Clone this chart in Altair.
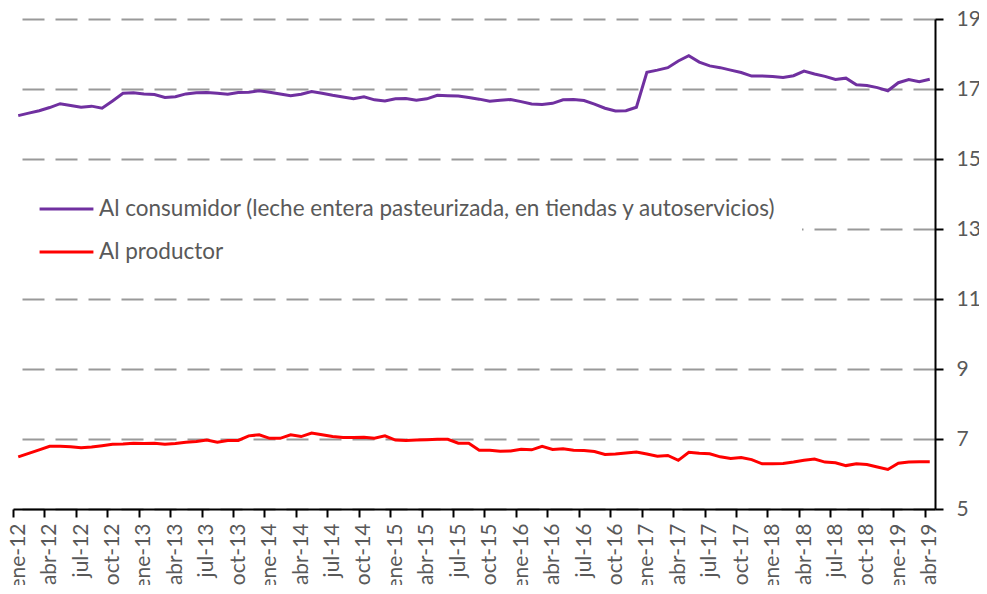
import json
import altair as alt
import pandas as pd

# ---- data (monthly, ene-12 .. abr-19) ----
meses = ["ene", "feb", "mar", "abr", "may", "jun", "jul", "ago", "sep", "oct", "nov", "dic"]
anio_inicio = 2012

consumidor = [
    16.24, 16.31, 16.38, 16.47, 16.58, 16.53, 16.48, 16.51, 16.45, 16.66, 16.88, 16.89,
    16.86, 16.84, 16.76, 16.78, 16.86, 16.89, 16.90, 16.88, 16.85, 16.90, 16.91, 16.95,
    16.91, 16.86, 16.81, 16.85, 16.93, 16.88, 16.82, 16.77, 16.72, 16.78, 16.69, 16.66,
    16.72, 16.73, 16.68, 16.72, 16.82, 16.81, 16.80, 16.76, 16.71, 16.65, 16.68, 16.70,
    16.64, 16.57, 16.56, 16.59, 16.69, 16.70, 16.67, 16.57, 16.45, 16.37, 16.38, 16.48,
    17.48, 17.54, 17.61, 17.80, 17.95, 17.77, 17.66, 17.61, 17.54, 17.47, 17.37, 17.37,
    17.36, 17.33, 17.38, 17.51, 17.43, 17.36, 17.27, 17.31, 17.12, 17.10, 17.04, 16.95,
    17.18, 17.27, 17.21, 17.28,
]

productor = [
    6.49, 6.59, 6.69, 6.79, 6.79, 6.78, 6.75, 6.77, 6.81, 6.85, 6.86, 6.88,
    6.87, 6.88, 6.85, 6.87, 6.91, 6.93, 6.97, 6.91, 6.96, 6.96, 7.09, 7.12,
    7.02, 7.02, 7.12, 7.07, 7.17, 7.12, 7.07, 7.04, 7.04, 7.05, 7.02, 7.09,
    6.97, 6.96, 6.97, 6.98, 6.99, 6.99, 6.88, 6.88, 6.68, 6.68, 6.65, 6.66,
    6.71, 6.69, 6.79, 6.70, 6.72, 6.68, 6.67, 6.64, 6.56, 6.57, 6.60, 6.63,
    6.57, 6.51, 6.53, 6.39, 6.62, 6.59, 6.58, 6.49, 6.44, 6.47, 6.41, 6.29,
    6.29, 6.30, 6.34, 6.39, 6.43, 6.34, 6.32, 6.24, 6.29, 6.27, 6.20, 6.13,
    6.31, 6.34, 6.35, 6.35,
]

series_nombres = [
    "Al consumidor (leche entera pasteurizada, en tiendas y autoservicios)",
    "Al productor",
]
colores = ["#7030A0", "#FF0000"]
y_ticks = [5, 7, 9, 11, 13, 15, 17, 19]

n = len(consumidor)
fechas = [f"{meses[i % 12]}-{(anio_inicio + i // 12) % 100:02d}" for i in range(n)]
tick_idx = list(range(0, n, 3))
tick_labels = [fechas[i] for i in tick_idx]

rows = []
for i in range(n):
    rows.append({"pos": i + 0.5, "fecha": fechas[i], "serie": series_nombres[0], "valor": consumidor[i]})
for i in range(n):
    rows.append({"pos": i + 0.5, "fecha": fechas[i], "serie": series_nombres[1], "valor": productor[i]})
df = pd.DataFrame(rows)

label_expr = json.dumps(tick_labels) + "[round(datum.value / 3)]"

FONT = "Lato"
TXT = "#595959"

chart = (
    alt.Chart(df)
    .mark_line(strokeWidth=3)
    .encode(
        x=alt.X(
            "pos:Q",
            scale=alt.Scale(domain=[0, n], nice=False, zero=False),
            axis=alt.Axis(
                values=tick_idx,
                labelExpr=label_expr,
                labelAngle=270,
                labelAlign="right",
                labelBaseline="middle",
                labelOffset=5.24,
                labelOverlap=False,
                labelFlush=False,
                labelFont=FONT,
                labelFontSize=21,
                labelColor=TXT,
                labelPadding=6,
                tickSize=8,
                tickWidth=2,
                tickColor="black",
                domainColor="black",
                domainWidth=2,
                grid=False,
                title=None,
            ),
        ),
        y=alt.Y(
            "valor:Q",
            scale=alt.Scale(domain=[5, 19], nice=False, zero=False),
            axis=alt.Axis(
                orient="right",
                values=y_ticks,
                labelFont=FONT,
                labelFontSize=21,
                labelColor=TXT,
                labelPadding=13,
                tickSize=8,
                tickWidth=2,
                tickColor="black",
                domainColor="black",
                domainWidth=2,
                grid=True,
                gridDash=[22, 11],
                gridColor="#999999",
                gridWidth=2,
                title=None,
            ),
        ),
        color=alt.Color(
            "serie:N",
            scale=alt.Scale(domain=series_nombres, range=colores),
            sort=series_nombres,
            legend=alt.Legend(
                orient="none",
                legendX=0,
                legendY=155,
                fillColor="white",
                padding=25,
                symbolType="stroke",
                symbolSize=2900,
                symbolStrokeWidth=3,
                labelFont=FONT,
                labelFontSize=22.5,
                labelColor=TXT,
                labelLimit=1000,
                clipHeight=20,
                rowPadding=20,
                title=None,
            ),
        ),
        detail="serie:N",
    )
    .properties(
        width=922,
        height=490,
        autosize=alt.AutoSizeParams(type="none"),
        padding={"left": 5, "top": 11, "right": 44, "bottom": 76},
    )
    .configure_view(strokeOpacity=0)
)

chart.save("out.html", embed_options={"renderer": "svg", "actions": False})
